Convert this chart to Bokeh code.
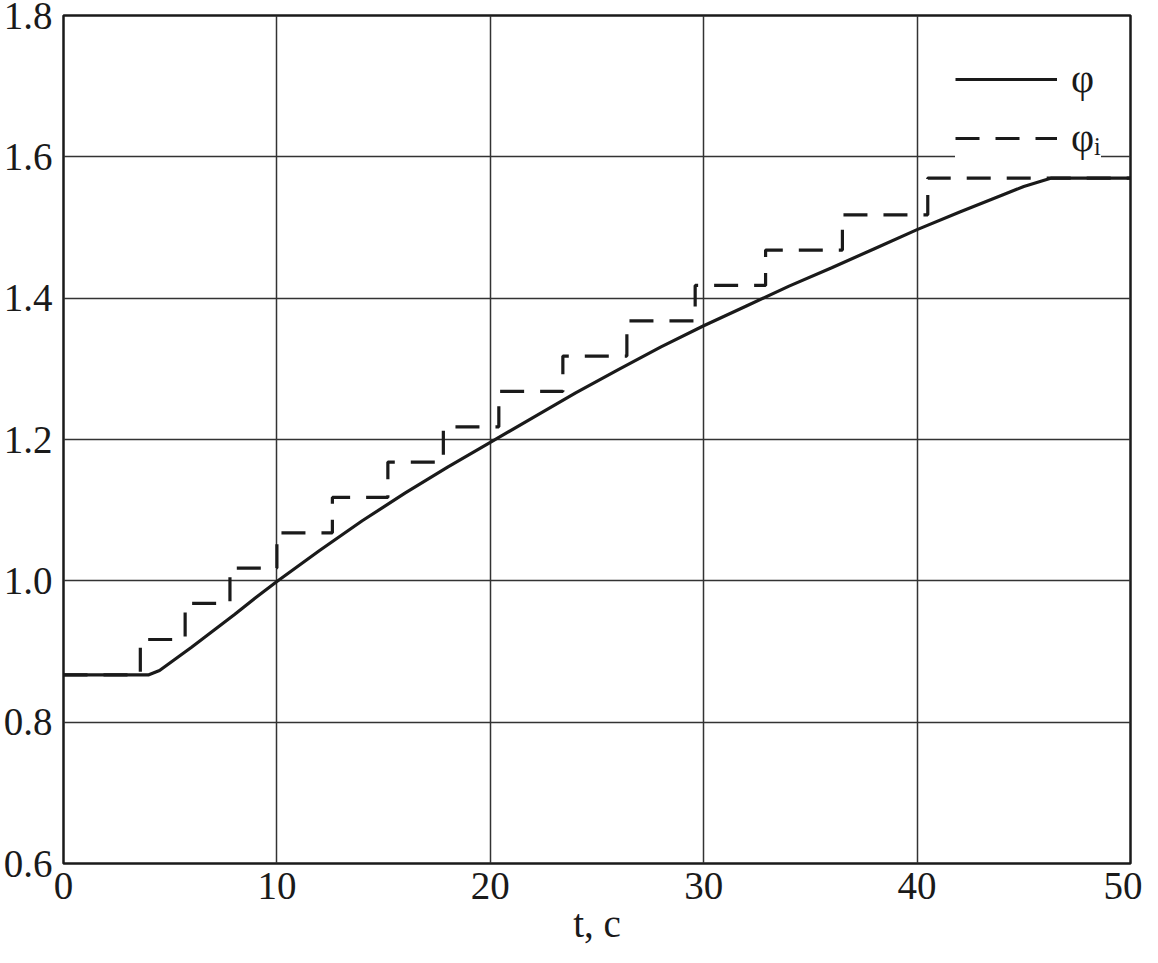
from bokeh.plotting import figure
from bokeh.models import Range1d, FixedTicker, NumeralTickFormatter, Legend, LegendItem
from bokeh.embed import file_html
from bokeh.resources import INLINE

# smooth angle phi(t)
t_phi = [0, 4.0, 4.5, 5, 6, 7, 8, 9, 10, 12, 14, 16, 18, 20, 22, 24, 26, 28, 30,
         32, 34, 36, 38, 40, 42, 44, 45, 46.3, 50]
phi = [0.867, 0.867, 0.873, 0.884, 0.906, 0.929, 0.952, 0.976, 0.999, 1.043, 1.085,
       1.124, 1.161, 1.196, 1.231, 1.266, 1.299, 1.331, 1.361, 1.389, 1.417, 1.443,
       1.470, 1.497, 1.522, 1.546, 1.558, 1.570, 1.570]

# stepwise angle phi_i(t)
t_step = [0, 3.6, 5.7, 7.8, 10.0, 12.6, 15.2, 17.8, 20.4, 23.4, 26.4, 29.6, 32.9,
          36.5, 40.5, 50]
phi_i = [0.867, 0.917, 0.968, 1.018, 1.068, 1.118, 1.168, 1.218, 1.268, 1.318,
         1.368, 1.418, 1.468, 1.518, 1.570, 1.570]

x_ticks = [0, 10, 20, 30, 40, 50]
y_ticks = [0.6, 0.8, 1.0, 1.2, 1.4, 1.6, 1.8]

FONT = "Liberation Serif"
INK = "#1a1a1a"

p = figure(width=1142, height=947, x_range=Range1d(0, 50), y_range=Range1d(0.6, 1.8),
           output_backend="svg", toolbar_location=None,
           min_border_left=55, min_border_right=12, min_border_top=15, min_border_bottom=83)

p.outline_line_color = INK
p.outline_line_width = 2.5
p.background_fill_color = "white"

for ax in (p.xaxis[0], p.yaxis[0]):
    ax.axis_line_color = None
    ax.major_tick_line_color = None
    ax.minor_tick_line_color = None
    ax.major_label_text_font = FONT
    ax.major_label_text_font_size = "39px"
    ax.major_label_text_color = INK

p.yaxis[0].major_label_standoff = 5
p.xaxis[0].major_label_standoff = 3

p.xaxis[0].axis_label = "t, с"
p.xaxis[0].axis_label_text_font = FONT
p.xaxis[0].axis_label_text_font_size = "39px"
p.xaxis[0].axis_label_text_font_style = "normal"
p.xaxis[0].axis_label_text_color = INK
p.xaxis[0].axis_label_standoff = 0

p.xaxis[0].ticker = FixedTicker(ticks=x_ticks)
p.yaxis[0].ticker = FixedTicker(ticks=y_ticks)
p.yaxis[0].formatter = NumeralTickFormatter(format="0.0")

p.xgrid.ticker = FixedTicker(ticks=x_ticks)
p.ygrid.ticker = FixedTicker(ticks=y_ticks)
for g in (p.xgrid[0], p.ygrid[0]):
    g.grid_line_color = "#333333"
    g.grid_line_width = 1.5

r1 = p.line(t_phi, phi, line_width=3.2, line_color=INK)
r2 = p.step(t_step, phi_i, mode="after", line_width=3.2, line_color=INK, line_dash="24 16")

legend = Legend(items=[LegendItem(label="φ", renderers=[r1]),
                       LegendItem(label="φᵢ", renderers=[r2])],
                location=(892, 702))
legend.label_text_font = FONT
legend.label_text_font_size = "40px"
legend.label_text_color = INK
legend.glyph_width = 102
legend.glyph_height = 44
legend.label_height = 44
legend.spacing = 12
legend.padding = 12
legend.margin = 0
legend.label_standoff = 14
legend.border_line_color = None
legend.background_fill_color = "white"
legend.background_fill_alpha = 1.0
p.add_layout(legend)

open("out.html", "w").write(file_html(p, INLINE))
